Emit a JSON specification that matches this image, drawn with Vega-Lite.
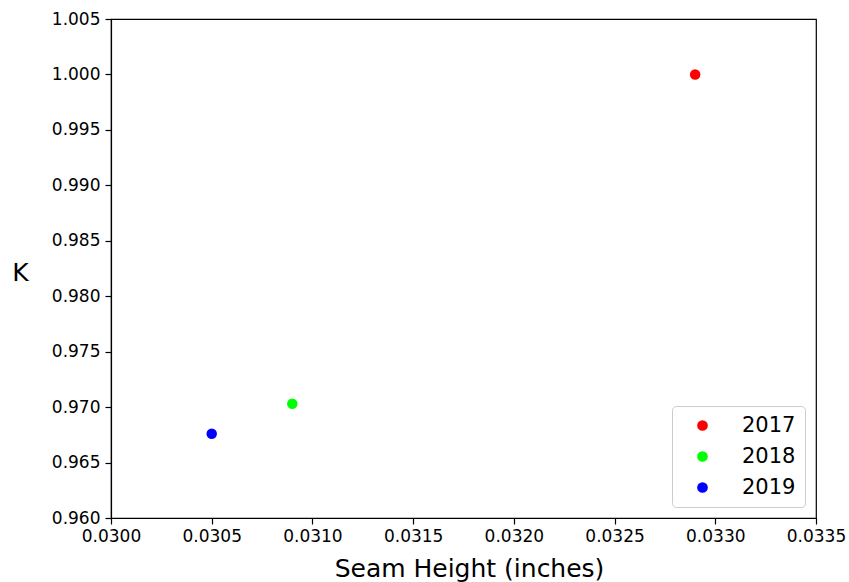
{
  "$schema": "https://vega.github.io/schema/vega-lite/v6.json",
  "width": 705,
  "height": 499,
  "autosize": "none",
  "padding": {"left": 111, "top": 19, "right": 33, "bottom": 64},
  "background": "white",
  "config": {
    "font": "DejaVu Sans",
    "view": {"stroke": "black", "strokeWidth": 1.2},
    "axis": {"grid": false, "domainColor": "black", "tickColor": "black", "labelColor": "black", "titleColor": "black", "labelFont": "DejaVu Sans", "titleFont": "DejaVu Sans", "labelFontSize": 17, "titleFontSize": 25, "titleFontWeight": "normal", "tickSize": 6, "tickWidth": 1.2, "domainWidth": 1.2, "labelFlush": false, "labelOverlap": false}
  },
  "data": {
    "values": [
      {"seam": 0.0329, "k": 1.0000, "year": "2017"},
      {"seam": 0.0309, "k": 0.9703, "year": "2018"},
      {"seam": 0.0305, "k": 0.9676, "year": "2019"}
    ]
  },
  "mark": {"type": "circle", "size": 110, "opacity": 1},
  "encoding": {
    "x": {
      "field": "seam", "type": "quantitative",
      "title": "Seam Height (inches)",
      "scale": {"domain": [0.03, 0.0335], "nice": false, "zero": false},
      "axis": {"values": [0.03, 0.0305, 0.031, 0.0315, 0.032, 0.0325, 0.033, 0.0335], "format": ".4f", "labelPadding": 4, "titlePadding": 12, "titleX": 358, "titleAlign": "center"}
    },
    "y": {
      "field": "k", "type": "quantitative",
      "title": "K",
      "scale": {"domain": [0.96, 1.005], "nice": false, "zero": false},
      "axis": {"values": [0.96, 0.965, 0.97, 0.975, 0.98, 0.985, 0.99, 0.995, 1.0, 1.005], "format": ".3f", "titleAngle": 0, "titleX": -91, "titleY": 253, "titleAlign": "center", "titleBaseline": "middle", "labelPadding": 5}
    },
    "color": {
      "field": "year", "type": "nominal",
      "scale": {"domain": ["2017", "2018", "2019"], "range": ["#ff0000", "#00ff00", "#0000ff"]},
      "legend": {
        "title": null,
        "orient": "none",
        "legendX": 561,
        "legendY": 387,
        "direction": "vertical",
        "symbolType": "circle",
        "symbolSize": 115,
        "symbolOpacity": 1,
        "symbolOffset": 11,
        "labelFontSize": 21,
        "labelFont": "DejaVu Sans",
        "labelColor": "black",
        "rowPadding": 9,
        "labelOffset": 29,
        "padding": 9,
        "fillColor": "white",
        "strokeColor": "#cccccc",
        "cornerRadius": 4,
        "offset": 0
      }
    }
  }
}
